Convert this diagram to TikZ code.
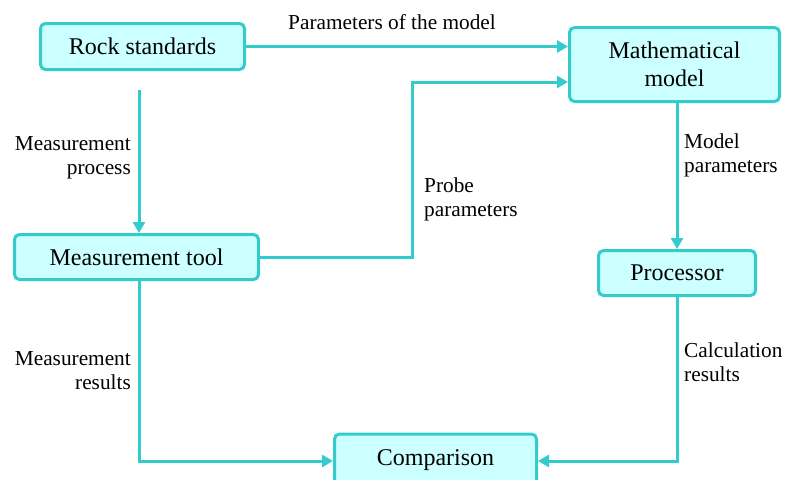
\documentclass[tikz,border=0pt]{standalone}
\usepackage{fontspec}
\setmainfont{Liberation Serif}
\usetikzlibrary{arrows.meta}
\definecolor{tealline}{HTML}{33CCCC}
\definecolor{cyanfill}{HTML}{CCFFFF}
\tikzset{
  stage/.style={draw=tealline, fill=cyanfill, line width=3pt, rounded corners=5pt,
    inner sep=0pt, align=center, font=\fontsize{24}{28}\selectfont},
  flow/.style={draw=tealline, line width=3pt,
    -{Triangle[length=11pt,width=12pt]}},
  note/.style={font=\fontsize{21.3}{24}\selectfont, inner sep=0pt}
}
\begin{document}
\begin{tikzpicture}[x=1pt,y=-1pt]
  \useasboundingbox (0,0) rectangle (789,479);

  % process boxes
  \node[stage, minimum width=204pt, minimum height=46pt] (rs) at (142.5,46.5) {Rock standards};
  \node[stage, minimum width=210pt, minimum height=74pt] (mm) at (674.5,64.5) {Mathematical\\model};
  \node[stage, minimum width=244pt, minimum height=45pt] (mt) at (136.5,257) {Measurement tool};
  \node[stage, minimum width=157pt, minimum height=45pt] (pr) at (677,273) {Processor};
  \node[stage, minimum width=202pt, minimum height=52pt] (cmp) at (435.5,460) {Comparison};

  % bend points
  \coordinate (rsgap) at (139,90);
  \coordinate (bend) at (412,82);

  % connectors
  \draw[flow] (rs.east) -- (rs.east -| mm.west);
  \draw[flow] (rsgap) -- (rsgap |- mt.north);
  \draw[flow] (mt.east) -| (bend) -- (bend -| mm.west);
  \draw[flow] (mm.south -| pr.north) -- (pr.north);
  \draw[flow] (mt.south -| rsgap) |- ([yshift=-1pt]cmp.west);
  \draw[flow] (pr.south) |- ([yshift=-1pt]cmp.east);

  % connector labels
  \node[note] (l1) at (392,22) {Parameters of the model};
  \node[note, align=right, anchor=east] (l2) at (131,158) {Measurement\\process};
  \node[note, align=left, anchor=west] (l3) at (424,199) {Probe\\parameters};
  \node[note, align=left, anchor=west] (l4) at (684,155) {Model\\parameters};
  \node[note, align=right, anchor=east] (l5) at (131,371) {Measurement\\results};
  \node[note, align=left, anchor=west] (l6) at (684,362) {Calculation\\results};
\end{tikzpicture}
\end{document}
